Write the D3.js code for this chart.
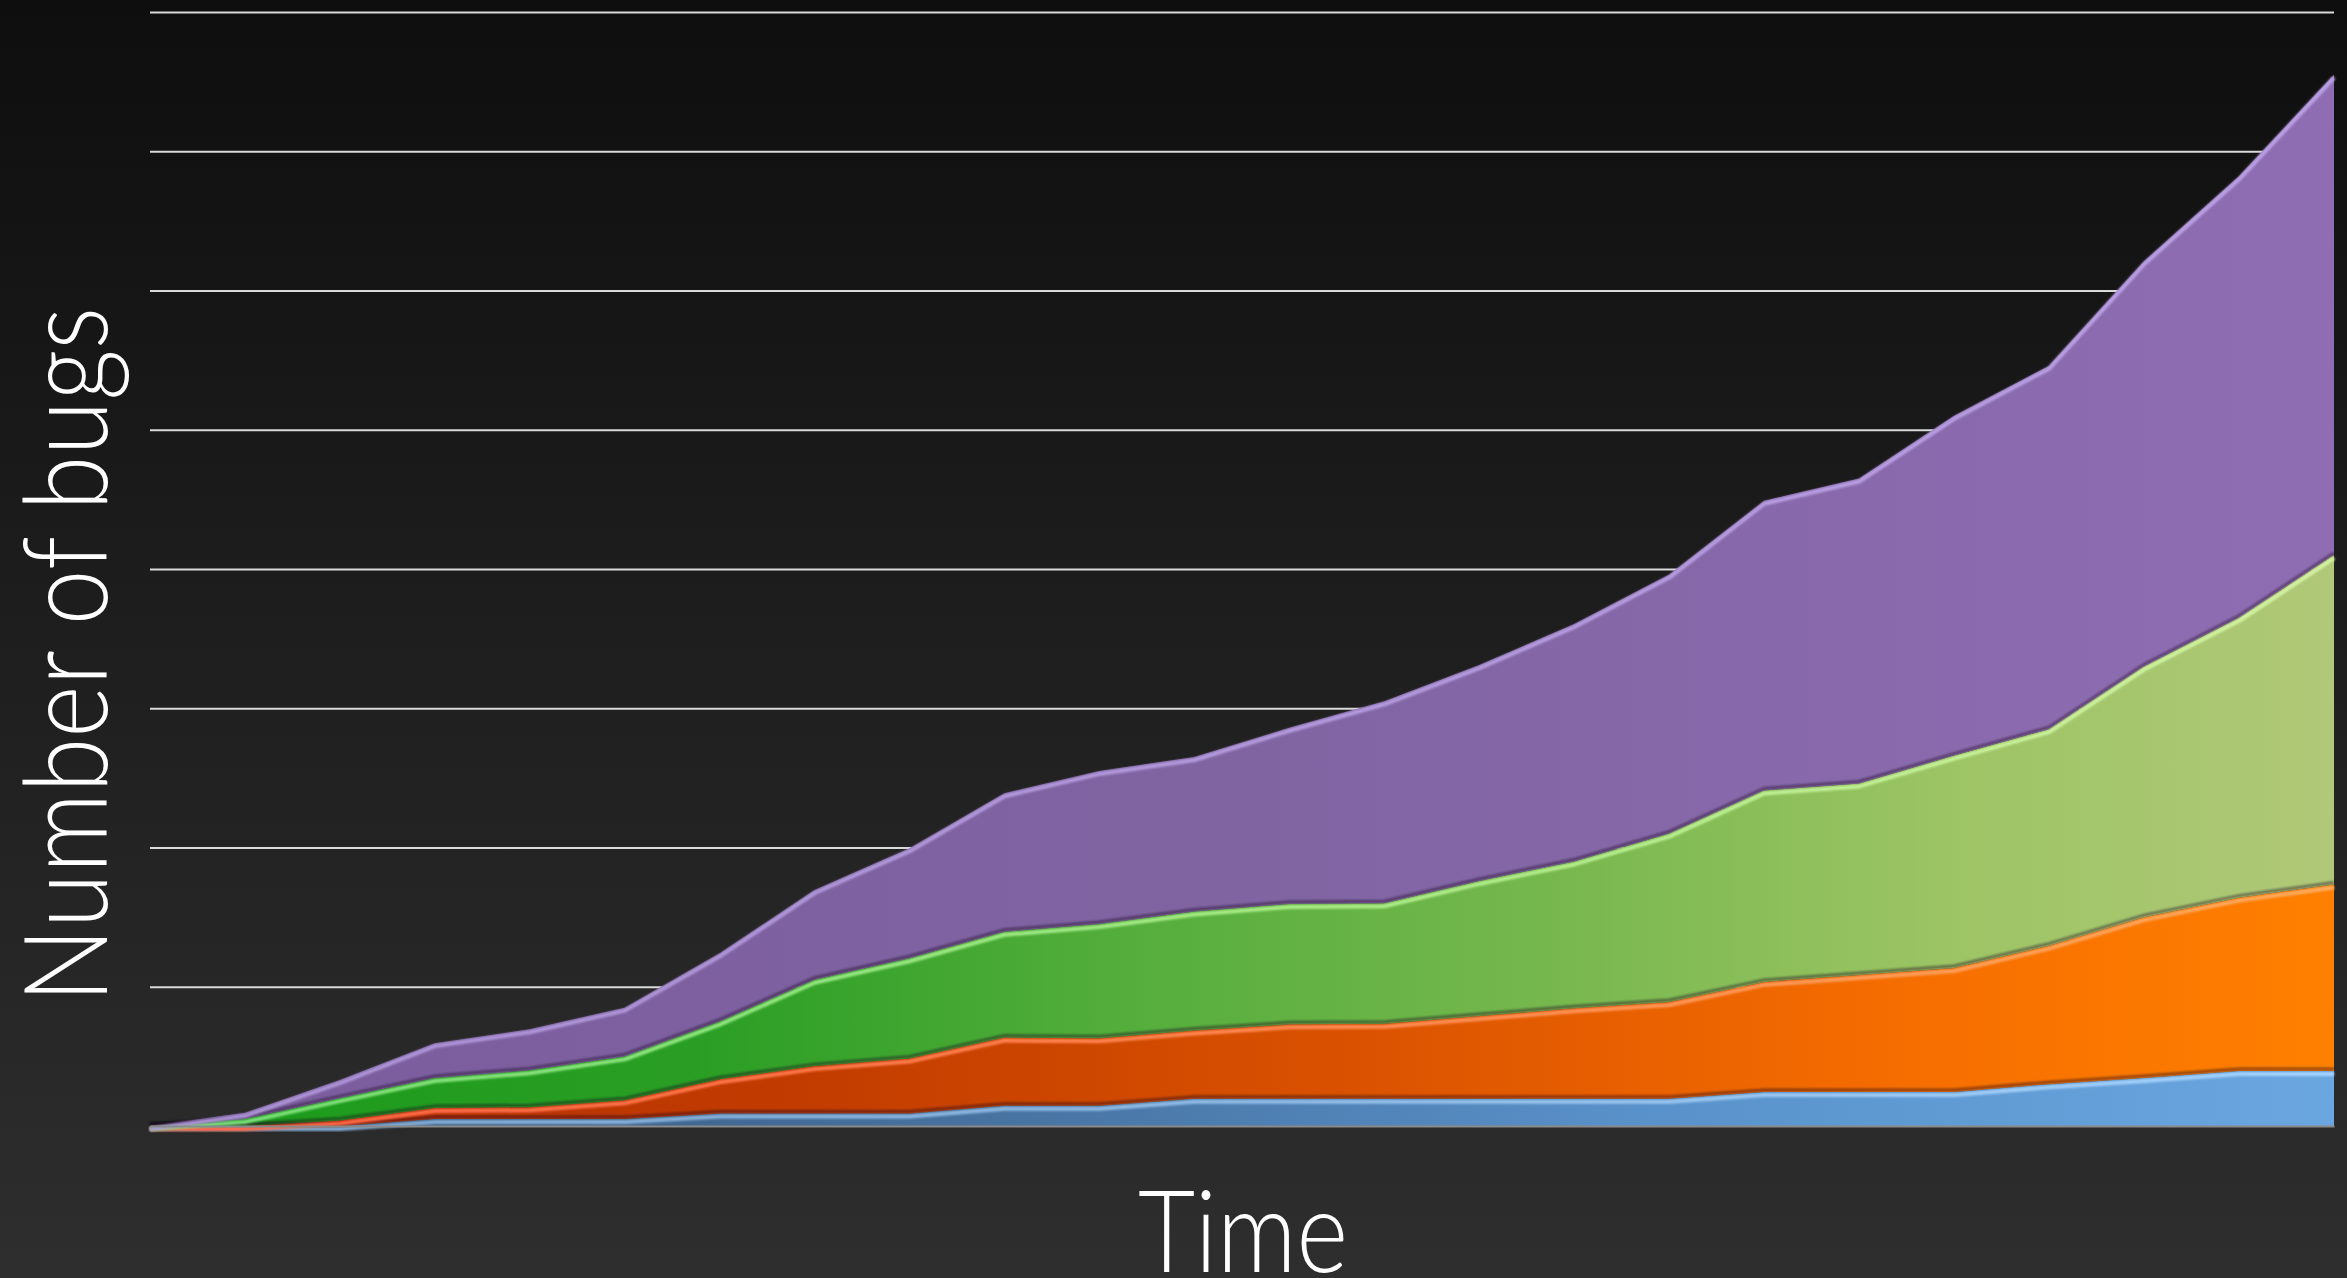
<!DOCTYPE html>
<html>
<head>
<meta charset="utf-8">
<script src="https://cdn.jsdelivr.net/npm/d3@7"></script>
<style>
  html, body { margin: 0; padding: 0; background: #1e1e1e; }
  svg { display: block; }
  .label { fill: #ffffff; font-family: Lato, "Open Sans", sans-serif; font-weight: 300; }
</style>
</head>
<body>
<div id="chart"></div>
<script>
// periods along the time axis (no tick labels are shown)
var periods = [1, 2, 3, 4, 5, 6, 7, 8, 9, 10, 11, 12, 13, 14, 15, 16, 17, 18, 19, 20, 21, 22, 23, 24];

// bugs per category (stacked bottom -> top)
var blueBugs   = [0, 0, 0, 1.0, 1.0, 1.0, 1.8, 1.8, 1.8, 2.9, 2.9, 3.9, 3.9, 3.9, 3.9, 3.9, 3.9, 4.9, 4.9, 4.9, 6.0, 6.9, 7.9, 7.9];
var redBugs    = [0, 0, 0.8, 1.6, 1.7, 2.7, 4.9, 6.8, 7.9, 9.8, 9.7, 9.8, 10.7, 10.8, 11.9, 13.0, 13.9, 15.8, 16.8, 17.8, 19.9, 23.1, 24.9, 26.8];
var greenBugs  = [0, 1.0, 3.2, 4.3, 5.3, 6.3, 8.3, 12.4, 14.4, 15.2, 16.4, 17.1, 17.3, 17.3, 19.4, 21.1, 24.2, 27.5, 27.5, 30.5, 31.1, 36.0, 40.2, 47.3];
var purpleBugs = [0, 0.9, 2.6, 5.0, 5.9, 7.0, 9.8, 12.9, 15.8, 19.9, 22.0, 22.2, 25.3, 29.0, 31.0, 34.1, 37.2, 41.6, 43.8, 48.8, 52.2, 58.2, 63.4, 69.0];

// gridline values (no labels on the axis)
var gridTicks = [20, 40, 60, 80, 100, 120, 140, 160];

var keys = ['blue', 'red', 'green', 'purple'];

var width = 2347, height = 1278;
var margin = { top: 12, right: 13, bottom: 152, left: 150 };

var svg = d3.select('#chart')
  .append('svg')
  .attr('width', width)
  .attr('height', height);

var defs = svg.append('defs');

// background: dark vertical gradient
var bg = defs.append('linearGradient')
  .attr('id', 'bg')
  .attr('x1', 0).attr('y1', 0).attr('x2', 0).attr('y2', 1);
bg.append('stop').attr('offset', '0%').attr('stop-color', '#0e0e0e');
bg.append('stop').attr('offset', '100%').attr('stop-color', '#2e2e2e');

svg.append('rect')
  .attr('width', width)
  .attr('height', height)
  .attr('fill', 'url(#bg)');

// horizontal colour gradients for each layer (dark on the left, light on the right)
var fillStops = {
  blue:   [['0%', '#3a5878'], ['35%', '#456f9c'], ['70%', '#5a93cc'], ['100%', '#6aa6e0']],
  red:    [['0%', '#b02a08'], ['30%', '#c23c00'], ['55%', '#da5200'], ['80%', '#f56d00'], ['100%', '#ff8000']],
  green:  [['0%', '#1a9a1a'], ['25%', '#2a9e24'], ['45%', '#55ae3c'], ['65%', '#78b84e'], ['82%', '#9cc464'], ['100%', '#b0c878']],
  purple: [['0%', '#7b5c9e'], ['50%', '#8064a2'], ['100%', '#8f6db3']]
};
var lightStops = {
  blue:   [['0%', '#7ea6cf'], ['100%', '#a6d4ff']],
  red:    [['0%', '#ff6244'], ['100%', '#ffac60']],
  green:  [['0%', '#7ae07a'], ['50%', '#a8ec86'], ['100%', '#d6f4a4']],
  purple: [['0%', '#ad94d6'], ['100%', '#bca2e6']]
};

function addGradient(id, stops) {
  var g = defs.append('linearGradient')
    .attr('id', id)
    .attr('gradientUnits', 'userSpaceOnUse')
    .attr('x1', margin.left).attr('y1', 0)
    .attr('x2', width - margin.right).attr('y2', 0);
  stops.forEach(function (s) {
    g.append('stop').attr('offset', s[0]).attr('stop-color', s[1]);
  });
}
keys.forEach(function (k) {
  addGradient('fill-' + k, fillStops[k]);
  addGradient('light-' + k, lightStops[k]);
});

var soft = defs.append('filter').attr('id', 'soft')
  .attr('x', '-5%').attr('y', '-5%').attr('width', '110%').attr('height', '110%');
soft.append('feGaussianBlur').attr('stdDeviation', 1.1);

// scales
var xScale = d3.scalePoint()
  .domain(periods)
  .range([margin.left, width - margin.right]);

var yScale = d3.scaleLinear()
  .domain([0, 160])
  .range([height - margin.bottom, margin.top]);

// gridlines
var grid = svg.append('g')
  .attr('transform', 'translate(' + margin.left + ',0)')
  .call(d3.axisLeft(yScale)
    .tickValues(gridTicks)
    .tickSize(-(width - margin.left - margin.right))
    .tickFormat(''));
grid.select('.domain').remove();
grid.selectAll('line')
  .attr('stroke', '#dadada')
  .attr('stroke-width', 2);

// stack the data
var table = periods.map(function (p, i) {
  return {
    period: p,
    blue: blueBugs[i],
    red: redBugs[i],
    green: greenBugs[i],
    purple: purpleBugs[i]
  };
});
var stacked = d3.stack().keys(keys)(table);

var area = d3.area()
  .x(function (d) { return xScale(d.data.period); })
  .y0(function (d) { return yScale(d[0]); })
  .y1(function (d) { return yScale(d[1]); });

var topLine = d3.line()
  .x(function (d) { return xScale(d.data.period); })
  .y(function (d) { return yScale(d[1]); });

var bottomLine = d3.line()
  .x(function (d) { return xScale(d.data.period); })
  .y(function (d) { return yScale(d[0]); });

var layers = svg.append('g');

layers.selectAll('path.layer')
  .data(stacked)
  .enter()
  .append('path')
  .attr('class', 'layer')
  .attr('d', area)
  .attr('fill', function (d) { return 'url(#fill-' + d.key + ')'; });

// bevel: dark shade along the bottom of each layer
layers.selectAll('path.shade')
  .data(stacked)
  .enter()
  .append('path')
  .attr('class', 'shade')
  .attr('d', bottomLine)
  .attr('transform', 'translate(0,-2)')
  .attr('fill', 'none')
  .attr('stroke', 'rgba(20,10,30,0.45)')
  .attr('stroke-width', 3)
  .attr('filter', 'url(#soft)');

// bevel: light highlight along the top of each layer
layers.selectAll('path.light')
  .data(stacked)
  .enter()
  .append('path')
  .attr('class', 'light')
  .attr('d', topLine)
  .attr('transform', 'translate(0,3)')
  .attr('fill', 'none')
  .attr('stroke', function (d) { return 'url(#light-' + d.key + ')'; })
  .attr('stroke-width', 4)
  .attr('stroke-linejoin', 'round')
  .attr('filter', 'url(#soft)');

// dark edge on the right side of the stack
var last = stacked[stacked.length - 1];
var lastPoint = last[last.length - 1];
layers.append('line')
  .attr('x1', xScale(lastPoint.data.period) - 2)
  .attr('x2', xScale(lastPoint.data.period) - 2)
  .attr('y1', yScale(lastPoint[1]) + 4)
  .attr('y2', yScale(0))
  .attr('stroke', 'rgba(0,0,0,0.3)')
  .attr('stroke-width', 4)
  .attr('filter', 'url(#soft)');

// baseline
var xAxis = svg.append('g')
  .attr('transform', 'translate(0,' + yScale(0) + ')')
  .call(d3.axisBottom(xScale).tickSize(0).tickFormat(''));
xAxis.select('.domain')
  .attr('stroke', '#8a8a8a')
  .attr('stroke-width', 2);

// axis titles
svg.append('text')
  .attr('class', 'label')
  .attr('transform', 'translate(107,655) rotate(-90)')
  .attr('text-anchor', 'middle')
  .attr('font-size', 116)
  .attr('textLength', 696)
  .attr('lengthAdjust', 'spacingAndGlyphs')
  .text('Number of bugs');

svg.append('text')
  .attr('class', 'label')
  .attr('x', 1243)
  .attr('y', 1272)
  .attr('text-anchor', 'middle')
  .attr('font-size', 114)
  .attr('textLength', 210)
  .attr('lengthAdjust', 'spacingAndGlyphs')
  .text('Time');
</script>
</body>
</html>
